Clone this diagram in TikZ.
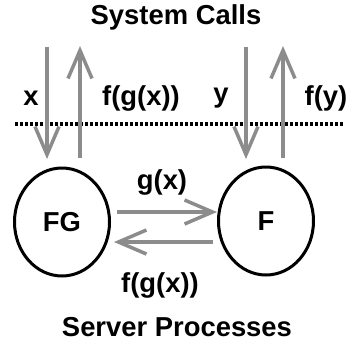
\documentclass[tikz,border=0pt]{standalone}
\usepackage{fontspec}
\setmainfont{Liberation Sans}
\usetikzlibrary{arrows.meta,shapes.geometric,calc}
\begin{document}
\begin{tikzpicture}[x=1bp,y=-1bp,
  lbl/.style={font=\fontsize{27.5}{29}\selectfont\bfseries, inner sep=0pt},
  garrow/.style={draw=black!45, line width=4bp,
    -{Straight Barb[length=28bp,width=24bp,line width=3.5bp]}},
  proc/.style={draw, line width=3bp, ellipse, minimum width=95bp, minimum height=108bp,
    font=\fontsize{27.5}{29}\selectfont\bfseries}]
\useasboundingbox (0,0) rectangle (352,351);
% titles
\node[lbl] (title) at (176,17) {System Calls};
\node[lbl] (bottom) at (177,327) {Server Processes};
% processes
\node[proc] (FG) at (62,222) {FG};
\node[proc] (F) at (266,221) {F};
% boundary
\coordinate (bl) at (15,124);
\coordinate (br) at (343,124);
\draw[line width=4.5bp, dash pattern=on 3bp off 2bp] (bl) -- (br);
% vertical call arrows
\coordinate (xs) at (47,47);
\coordinate (xe) at (47,159);
\coordinate (rs) at (80,158);
\coordinate (re) at (80,46);
\coordinate (ys) at (246,47);
\coordinate (ye) at (246,159);
\coordinate (fs) at (283,158);
\coordinate (fe) at (283,46);
\draw[garrow] (xs) -- (xe);
\draw[garrow] (rs) -- (re);
\draw[garrow] (ys) -- (ye);
\draw[garrow] (fs) -- (fe);
\node[lbl] (lx) at (31,98) {x};
\node[lbl] (lfgx) at (141,98) {f(g(x))};
\node[lbl] (ly) at (221,98) {y};
\node[lbl] (lfy) at (326,98) {f(y)};
% process arrows
\draw[garrow] ($(FG.east)+(6,-10)$) -- ($(F.west)+(0,-9)$);
\draw[garrow] ($(F.west)+(-4,21)$) -- ($(FG.east)+(3,20)$);
\node[lbl] (lg) at (162,182) {g(x)};
\node[lbl] (lfgx2) at (160,285) {f(g(x))};
\end{tikzpicture}
\end{document}
